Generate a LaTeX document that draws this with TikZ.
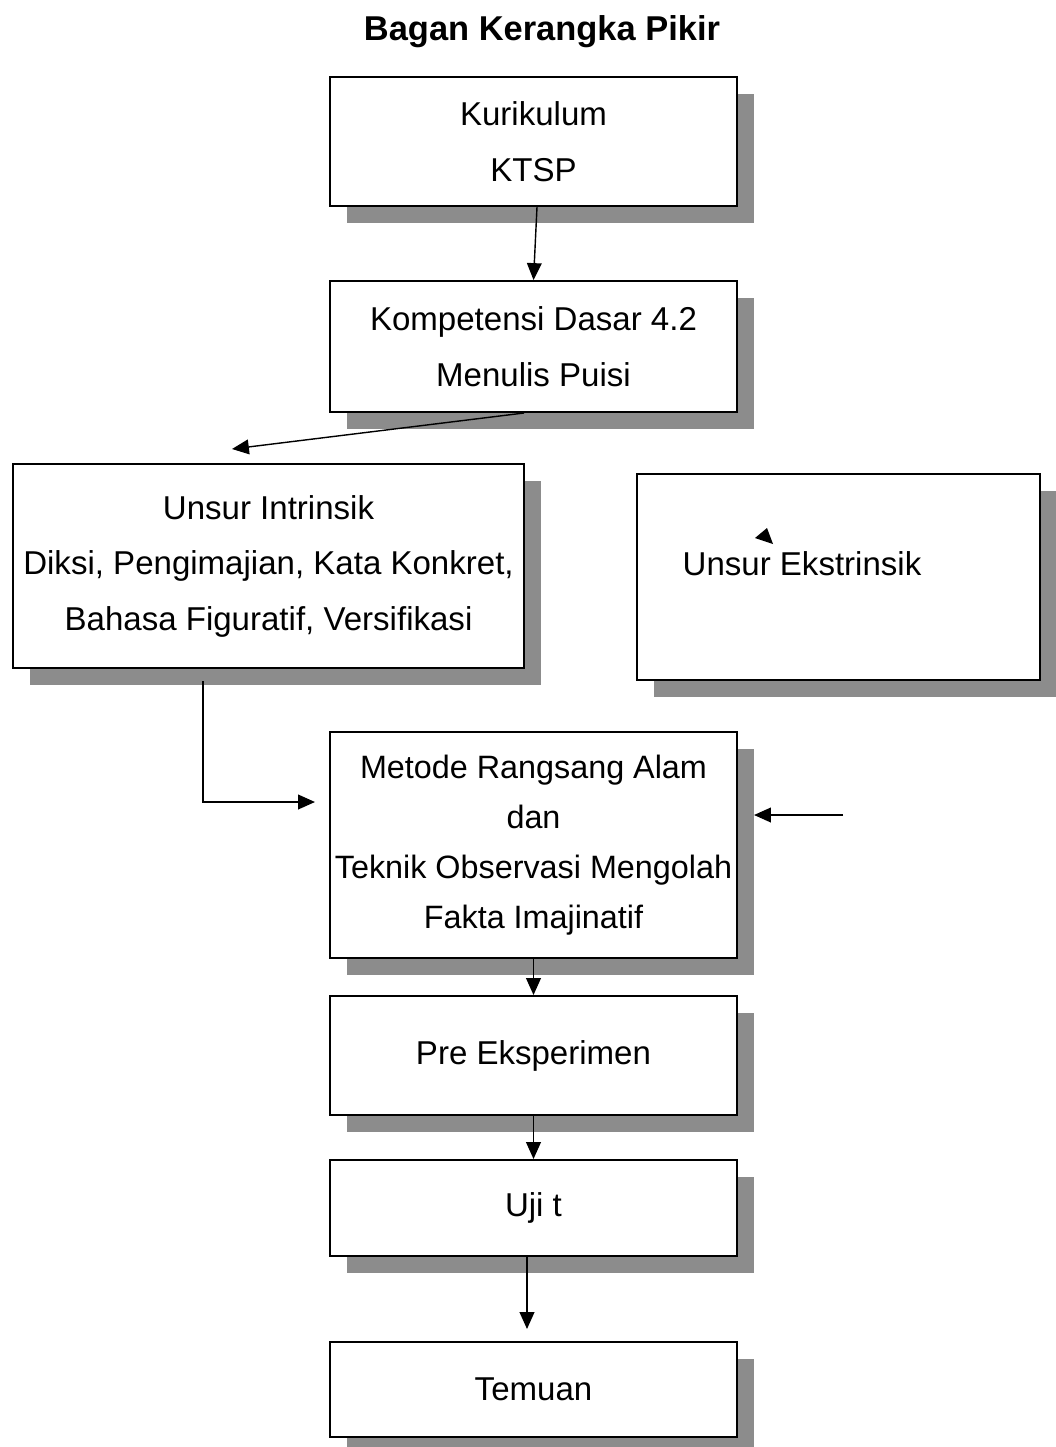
\documentclass[tikz,border=0pt]{standalone}
\usepackage{fontspec}
\setmainfont{Liberation Sans}
\usetikzlibrary{shapes,arrows.meta,shadows,calc}
\tikzstyle{block} = [rectangle, draw, fill=white, line width=1.4pt, inner sep=2pt,
    align=center, minimum width=10.175cm,
    drop shadow={shadow xshift=0.425cm, shadow yshift=-0.425cm, fill=black!45, opacity=1}]
\tikzstyle{line} = [draw, line width=1pt, -{Triangle[length=12pt,width=10.5pt]}]

\begin{document}
\begin{tikzpicture}[x=0.025cm, y=-0.025cm, font=\fontsize{23.5}{39.5}\selectfont]
    \useasboundingbox (0,0) rectangle (1056,1447);

    \node[font=\fontsize{24.5}{30}\selectfont\bfseries] (title) at (542,32) {Bagan Kerangka Pikir};

    \node[block, minimum height=3.225cm] (ktsp) at (533.5,141.5) {Kurikulum\\KTSP};
    \node[block, minimum height=3.275cm] (komp) at (533.5,346.5) {Kompetensi Dasar 4.2\\Menulis Puisi};
    \node[block, minimum width=12.775cm, minimum height=5.1cm] (intr) at (268.5,566)
        {Unsur Intrinsik\\Diksi, Pengimajian, Kata Konkret,\\Bahasa Figuratif, Versifikasi};
    \node[block, minimum width=10.075cm, minimum height=5.15cm] (ekst) at (838.5,577) {};
    \node (eksttxt) at (802,564) {Unsur Ekstrinsik};
    \node[block, minimum height=5.65cm, inner xsep=0pt, font=\fontsize{23}{35.5}\selectfont] (metode) at (533.5,845)
        {Metode Rangsang Alam\\dan\\Teknik Observasi Mengolah\\Fakta Imajinatif};
    \node[block, minimum height=2.975cm] (pre) at (533.5,1055.5) {Pre Eksperimen};
    \node[block, minimum height=2.4cm] (uji) at (533.5,1208) {Uji t};
    \node[block, minimum height=2.375cm] (temuan) at (533.5,1389.5) {Temuan};

    \coordinate (kanan) at (843,815);

    \path[line] ($(ktsp.south)+(3.5,0)$) -- (komp.north);
    \path[line] ($(komp.south)+(-9.5,0)$) -- ($(intr.north)+(-36.5,-14)$);
    \path[line] ($(intr.south)+(-65.5,12)$) |- ($(metode.west)+(-14,-43)$);
    \path[line] (kanan) -- ($(metode.east)+(16,-30)$);
    \path[line] (metode.south) -- (pre.north);
    \path[line] (pre.south) -- (uji.north);
    \path[line] ($(uji.south)+(-6.5,0)$) -- ($(temuan.north)+(-6.5,-12)$);

    % ujung panah lepas
    \fill (755,538) -- (767,528) -- (773,544) -- cycle;
\end{tikzpicture}
\end{document}
